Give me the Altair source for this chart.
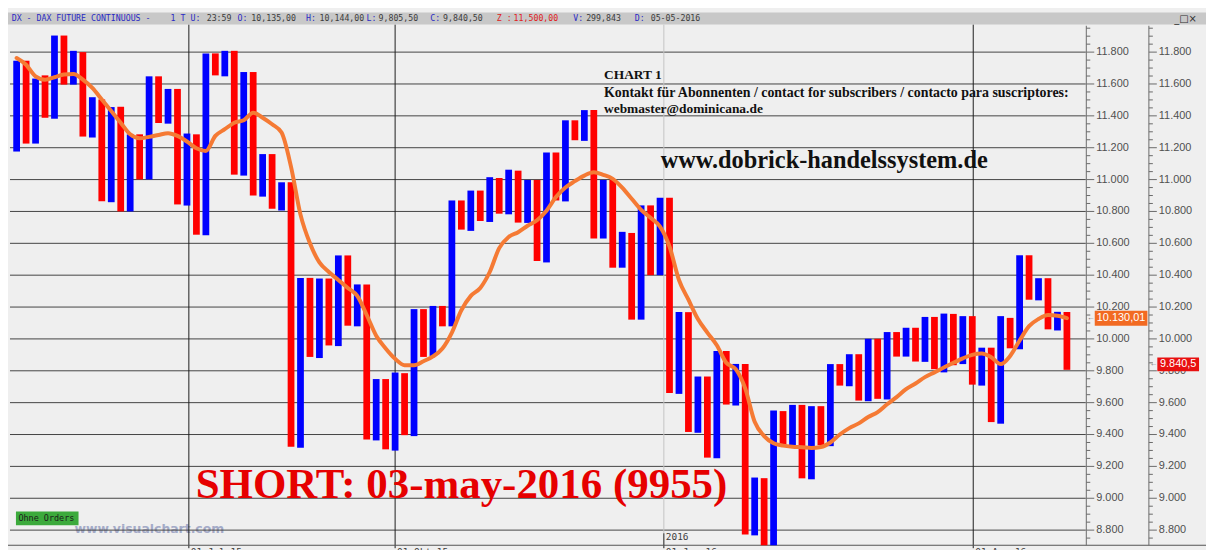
import altair as alt
import pandas as pd

# ---------------- data ----------------
bar_top = [11746, 11746, 11634, 11654, 11904, 11904, 11808, 11800, 11517, 11503,
           11455, 11457, 11284, 11284, 11648, 11648, 11569, 11569, 11289, 11284,
           11792, 11792, 11808, 11808, 11675, 11675, 11160, 11160, 10983, 10983,
           10383, 10383, 10379, 10379, 10524, 10524, 10342, 10342, 9748, 9748,
           9789, 9785, 10187, 10187, 10207, 10207, 10869, 10869, 10931, 10931,
           11015, 11010, 11062, 11056, 10998, 10998, 11170, 11170, 11372, 11372,
           11436, 11436, 10998, 10998, 10672, 10665, 10838, 10838, 10886, 10886,
           10169, 10168, 9764, 9764, 9924, 9924, 9843, 9843, 9130, 9126,
           9551, 9547, 9586, 9586, 9578, 9578, 9842, 9842, 9904, 9904,
           10001, 10001, 10043, 10043, 10070, 10070, 10138, 10138, 10159, 10157,
           10143, 10143, 9945, 9945, 10143, 10132, 10525, 10525, 10381, 10381,
           10170, 10169]
bar_bottom = [11176, 11226, 11226, 11388, 11382, 11596, 11596, 11270, 11264, 10864,
              10858, 10800, 10800, 11001, 11001, 11355, 11351, 10844, 10837, 10654,
              10650, 11654, 11648, 11031, 11025, 10900, 10893, 10817, 10806, 9324,
              9317, 9887, 9880, 9959, 9955, 10083, 10079, 9369, 9363, 9307,
              9299, 9396, 9390, 9887, 9893, 10079, 10079, 10686, 10678, 10740,
              10734, 10786, 10782, 10730, 10728, 10489, 10480, 10869, 10863, 11247,
              11243, 10630, 10630, 10447, 10447, 10121, 10121, 10400, 10400, 9660,
              9655, 9416, 9411, 9255, 9251, 9588, 9582, 8773, 8767, 8705,
              8705, 9333, 9327, 9125, 9119, 9333, 9327, 9707, 9703, 9613,
              9609, 9624, 9620, 9889, 9889, 9858, 9856, 9810, 9790, 9835,
              9842, 9713, 9707, 9478, 9468, 9941, 9935, 10246, 10242, 10060,
              10053, 9806]
ma_values = [11763, 11721, 11648, 11627, 11642, 11659, 11663, 11627, 11575, 11503,
             11430, 11357, 11284, 11259, 11268, 11280, 11291, 11274, 11239, 11197,
             11180, 11274, 11316, 11357, 11372, 11420, 11388, 11347, 11295, 11080,
             10780, 10600, 10480, 10420, 10370, 10320, 10270, 10150, 10020, 9940,
             9875, 9835, 9835, 9860, 9890, 9940, 10040, 10180, 10270, 10320,
             10420, 10570, 10640, 10670, 10710, 10745, 10805, 10890, 10950, 10990,
             11025, 11046, 11030, 11005, 10950, 10880, 10810, 10760, 10705, 10580,
             10370, 10246, 10125, 10040, 9960, 9850, 9810, 9690, 9480, 9390,
             9345, 9330, 9323, 9320, 9316, 9322, 9350, 9400, 9440, 9470,
             9510, 9541, 9590, 9635, 9685, 9720, 9760, 9790, 9821, 9850,
             9878, 9900, 9908, 9885, 9842, 9893, 9990, 10080, 10125, 10150,
             10145, 10130]

price_levels = [8800, 9000, 9200, 9400, 9600, 9800, 10000, 10200, 10400, 10600,
                10800, 11000, 11200, 11400, 11600, 11800]
price_labels = ["8.800", "9.000", "9.200", "9.400", "9.600", "9.800", "10.000", "10.200",
                "10.400", "10.600", "10.800", "11.000", "11.200", "11.400", "11.600", "11.800"]
minor_levels = [p for p in range(8750, 11951, 50) if p % 200 != 0]

date_pos = [18.2, 40.0, 68.4, 101.1]
date_labels = ["01-Jul-15", "01-Okt-15", "01-Jan-16", "01-Apr-16"]
date_dark = [True, True, False, True]

last_ma_value = 10130.01
last_ma_label = "10.130,01"
last_close_value = 9840.5
last_close_label = "9.840,5"

header_segments = [
    ("DX - DAX FUTURE CONTINUOUS -", 3.7, "b"), ("1 T", 163.7, "b"), ("U:", 183.7, "b"),
    ("23:59", 200, "g"), ("O:", 231, "b"), ("10,135,00", 245, "g"), ("H:", 300, "b"),
    ("10,144,00", 313.7, "g"), ("L:", 361, "b"), ("9,805,50", 373, "g"), ("C:", 425, "b"),
    ("9,840,50", 438, "g"), ("Z :", 492, "r"), ("11,500,00", 509, "r"), ("V:", 569, "b"),
    ("299,843", 582, "g"), ("D:", 631, "b"), ("05-05-2016", 647, "g"),
]
header_colors = {"b": "#2a2ac4", "g": "#3c3c3c", "r": "#e02020"}

# ---------------- layout ----------------
W, H = 1206, 542
xs = alt.Scale(domain=[-0.913, 125.70], nice=False, zero=False)
ys = alt.Scale(domain=[8686.5, 12065.6], nice=False, zero=False)
one = pd.DataFrame({"a": [0]})

bars_df = pd.DataFrame({"idx": list(range(len(bar_top))), "top": bar_top, "bottom": bar_bottom})
ma_df = pd.DataFrame({"idx": list(range(len(ma_values))), "ma": ma_values})
grid_df = pd.DataFrame({"price": price_levels, "label": price_labels})
minor_df = pd.DataFrame({"price": minor_levels})
dates_df = pd.DataFrame({"pos": date_pos, "label": date_labels, "dark": date_dark})
box_df = pd.DataFrame({"v": [last_ma_value], "t": [last_ma_label]})
box2_df = pd.DataFrame({"v": [last_close_value], "t": [last_close_label]})

X = lambda f: alt.X(f, type="quantitative", scale=xs, axis=None)
Y = lambda f: alt.Y(f, type="quantitative", scale=ys, axis=None)


def txt(s, x, y, **kw):
    return alt.Chart(one).mark_text(text=s, **kw).encode(x=alt.value(x), y=alt.value(y))


def rect(x, x2, y, y2, color):
    return alt.Chart(one).mark_rect(color=color).encode(
        x=alt.value(x), x2=alt.value(x2), y=alt.value(y), y2=alt.value(y2))


layers = []
# header bar
layers.append(rect(0, W, 2.7, 14.7, "#c8c8c8"))
for s, hx, c in header_segments:
    layers.append(txt(s, hx, 9, align="left", baseline="middle", font="DejaVu Sans Mono",
                      fontSize=8.3, color=header_colors[c]))
layers.append(txt("_□×", 1174, 9, align="left", baseline="middle", font="DejaVu Sans",
                  fontSize=10, color="#303030"))

# watermark
layers.append(txt("www.visualchart.com", 67, 523, align="left", baseline="middle",
                  font="DejaVu Sans", fontSize=12.5, fontWeight="bold", color="#a4abc8"))

# horizontal grid
layers.append(alt.Chart(grid_df).mark_rule(color="#444444", strokeWidth=1).encode(
    y=Y("price"), x=alt.value(2), x2=alt.value(1085)))

# vertical date lines
layers.append(alt.Chart(dates_df).transform_filter("datum.dark").mark_rule(
    color="#1e1e1e", strokeWidth=1).encode(x=X("pos"), y=alt.value(15), y2=alt.value(H)))
layers.append(alt.Chart(dates_df).transform_filter("!datum.dark").mark_rule(
    color="#c4c4c4", strokeWidth=1).encode(x=X("pos"), y=alt.value(15), y2=alt.value(H)))
layers.append(alt.Chart(dates_df).transform_filter("!datum.dark").mark_rule(
    color="#303030", strokeWidth=1).encode(x=X("pos"), y=alt.value(527), y2=alt.value(H)))

# bottom axis line
layers.append(rect(0, W, 538.5, 539.5, "#555555"))

# bars
layers.append(alt.Chart(bars_df).transform_calculate(
    dir="datum.idx % 2 == 0 ? 'up' : 'down'").mark_rule(strokeWidth=6.8).encode(
    x=X("idx"), y=Y("top"), y2="bottom",
    color=alt.Color("dir:N", scale=alt.Scale(domain=["up", "down"], range=["#0000ff", "#ff0000"]),
                    legend=None)))

# moving average
layers.append(alt.Chart(ma_df).mark_line(color="#f57a34", strokeWidth=4, interpolate="monotone",
                                          strokeCap="round", strokeJoin="round").encode(
    x=X("idx"), y=Y("ma")))

# right axes
for ax in (1085.5, 1148.5):
    layers.append(rect(ax - 0.5, ax + 0.5, 16, 539, "#6a6a6a"))
    layers.append(alt.Chart(grid_df).mark_rule(color="#6a6a6a").encode(
        y=Y("price"), x=alt.value(ax), x2=alt.value(ax + 8)))
    layers.append(alt.Chart(minor_df).mark_rule(color="#6a6a6a").encode(
        y=Y("price"), x=alt.value(ax), x2=alt.value(ax + 4)))
    layers.append(alt.Chart(grid_df).mark_text(align="left", baseline="middle", font="Liberation Sans",
                                               fontSize=11, color="#505050").encode(
        y=Y("price"), x=alt.value(ax + 10), text="label:N"))

# last value boxes
layers.append(alt.Chart(box_df).mark_rule(color="#f26a22", strokeWidth=15).encode(
    y=Y("v"), x=alt.value(1094), x2=alt.value(1147)))
layers.append(alt.Chart(box_df).mark_text(align="center", baseline="middle", font="Liberation Sans",
                                          fontSize=11, color="white").encode(
    y=Y("v"), x=alt.value(1120.5), text="t:N"))
layers.append(alt.Chart(box_df).mark_text(text="←", align="center", baseline="middle",
                                          fontSize=8, color="#707070").encode(
    y=Y("v"), x=alt.value(1090.5)))
layers.append(alt.Chart(box2_df).mark_rule(color="#e81010", strokeWidth=14).encode(
    y=Y("v"), x=alt.value(1157), x2=alt.value(1199)))
layers.append(alt.Chart(box2_df).mark_text(align="center", baseline="middle", font="Liberation Sans",
                                           fontSize=11, color="white").encode(
    y=Y("v"), x=alt.value(1178), text="t:N"))
layers.append(alt.Chart(box2_df).mark_text(text="←", align="center", baseline="middle",
                                           fontSize=8, color="#707070").encode(
    y=Y("v"), x=alt.value(1153.5)))

# annotations
serif = dict(font="Liberation Serif", fontWeight="bold", align="left", baseline="alphabetic")
layers.append(txt("CHART 1", 600, 70, fontSize=13.5, color="#111111", **serif))
layers.append(txt("Kontakt für Abonnenten / contact for subscribers / contacto para suscriptores:",
                  600, 88, fontSize=14, color="#111111", **serif))
layers.append(txt("webmaster@dominicana.de", 600, 103.5, fontSize=13.5, color="#111111", **serif))
layers.append(txt("www.dobrick-handelssystem.de", 657, 159, fontSize=24.5, color="#111111", **serif))
layers.append(txt("SHORT: 03-may-2016 (9955)", 189, 491, fontSize=43.2, color="#e60000", **serif))

# Ohne Orders tag
layers.append(rect(8, 71, 505, 519, "#3caa3c"))
layers.append(txt("Ohne Orders", 10.5, 512, align="left", baseline="middle", font="DejaVu Sans Mono",
                  fontSize=8.5, color="#1a1a1a"))

# date labels
layers.append(alt.Chart(dates_df).mark_text(align="left", baseline="top", font="DejaVu Sans Mono",
                                            fontSize=9.5, color="#404040", dx=2).encode(
    x=X("pos"), y=alt.value(540.5), text="label:N"))
layers.append(alt.Chart(dates_df).transform_filter("!datum.dark").mark_text(
    text="2016", align="left", baseline="middle", font="DejaVu Sans Mono", fontSize=9.5,
    color="#404040", dx=2).encode(x=X("pos"), y=alt.value(530.5)))

chart = alt.layer(*layers).properties(
    width=W, height=H, autosize=alt.AutoSizeParams(type="none"), padding=0,
    background="#efefef",
).configure_view(strokeWidth=0)

chart.save("out.html", embed_options={"renderer": "svg", "actions": False})
